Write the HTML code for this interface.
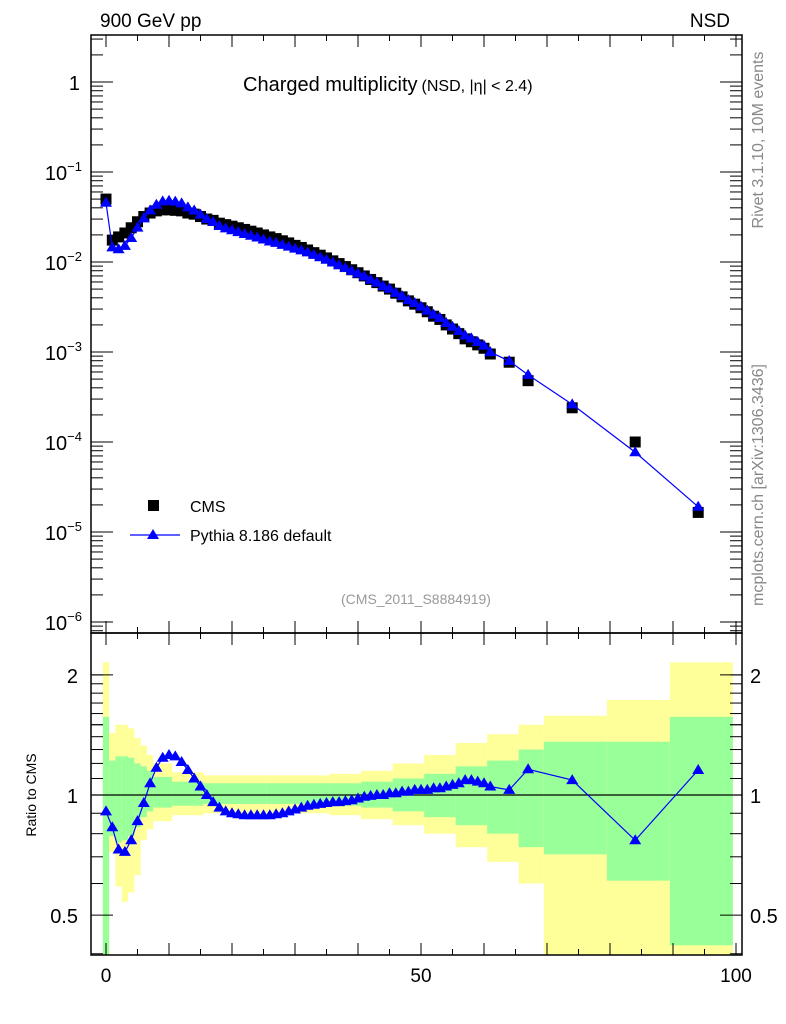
<!DOCTYPE html>
<html><head><meta charset="utf-8">
<style>
html,body{margin:0;padding:0;background:#fff;}
svg{display:block;font-family:"Liberation Sans",sans-serif;}
</style></head>
<body>
<svg id="chart" width="786" height="1024" viewBox="0 0 786 1024">
<g id="bands"></g>
<g id="grid"></g>
<g id="marks"></g>
<rect x="91" y="35" width="651" height="598" fill="none" stroke="#000" stroke-width="1.5"/>
<rect x="91" y="633" width="651" height="322" fill="none" stroke="#000" stroke-width="1.5"/>
<text x="100" y="27" font-size="19">900 GeV pp</text>
<text x="730" y="27" font-size="19" text-anchor="end">NSD</text>
<text x="243" y="91" font-size="20">Charged multiplicity<tspan font-size="16" dx="4">(NSD, |η| &lt; 2.4)</tspan></text>
<text transform="translate(763,140) rotate(-90)" font-size="16" fill="#888" text-anchor="middle">Rivet 3.1.10,  10M events</text>
<text transform="translate(763,485) rotate(-90)" font-size="16" fill="#888" text-anchor="middle">mcplots.cern.ch [arXiv:1306.3436]</text>
<text x="416" y="604" font-size="14" fill="#999" text-anchor="middle">(CMS_2011_S8884919)</text>
<text transform="translate(36,795) rotate(-90)" font-size="14" text-anchor="middle">Ratio to CMS</text>
<g>
<rect x="148" y="500" width="11" height="11" fill="#000"/>
<text x="190" y="512" font-size="16">CMS</text>
<line x1="130" y1="535" x2="180" y2="535" stroke="#00f" stroke-width="1.2"/>
<polygon points="153,529 159,539 147,539" fill="#00f"/>
<text x="190" y="541" font-size="16">Pythia 8.186 default</text>
</g>
</svg>
<script>
const nVals=[0,1,2,3,4,5,6,7,8,9,10,11,12,13,14,15,16,17,18,19,20,21,22,23,24,25,26,27,28,29,30,31,32,33,34,35,36,37,38,39,40,41,42,43,44,45,46,47,48,49,50,51,52,53,54,55,56,57,58,59,60,61,64,67,74,84,94];
const cmsVals=[.050,.0175,.019,.021,.024,.028,.032,.035,.037,.038,.038,.0375,.037,.035,.034,.032,.030,.029,.027,.026,.025,.024,.023,.022,.021,.020,.019,.0182,.0172,.0163,.0153,.0145,.0136,.0127,.0119,.0111,.0103,.0096,.0089,.0082,.0076,.0070,.0064,.0059,.0054,.0050,.0045,.0041,.0037,.0034,.0031,.0028,.0025,.0023,.0020,.0018,.0016,.0014,.0013,.0012,.0011,.00095,.00077,.00048,.00024,.0001,.0000165];
const ratioVals=[.91,.83,.73,.72,.77,.86,.955,1.07,1.17,1.24,1.26,1.25,1.21,1.155,1.10,1.05,1.0,.96,.93,.91,.90,.895,.89,.89,.89,.89,.89,.895,.90,.91,.92,.93,.94,.945,.95,.955,.96,.96,.965,.97,.98,.99,.995,1.0,1.0,1.01,1.01,1.02,1.02,1.03,1.03,1.03,1.04,1.04,1.05,1.06,1.07,1.09,1.09,1.08,1.07,1.05,1.03,1.16,1.09,.77,1.155];
const bandEdges=[-0.5,0.5,1.5,2.5,3.5,4.5,5.5,6.5,7.5,10.5,15.5,25.5,35.5,40.5,45.5,50.5,55.5,60.5,65.5,69.5,79.5,89.5,99.5];
const yellowUp=[2.15,1.43,1.5,1.5,1.47,1.39,1.33,1.26,1.2,1.14,1.12,1.12,1.13,1.15,1.2,1.26,1.35,1.42,1.5,1.58,1.73,2.15];
const yellowLo=[0.3,0.72,0.59,0.54,0.57,0.63,0.77,0.82,0.86,0.89,0.9,0.9,0.89,0.87,0.84,0.8,0.74,0.68,0.6,0.3,0.3,0.3];
const greenUp=[1.57,1.22,1.25,1.25,1.24,1.2,1.18,1.15,1.11,1.08,1.07,1.07,1.07,1.08,1.1,1.13,1.18,1.22,1.3,1.36,1.36,1.57];
const greenLo=[0.3,0.79,0.76,0.77,0.79,0.83,0.88,0.91,0.93,0.94,0.95,0.95,0.94,0.93,0.91,0.88,0.84,0.8,0.74,0.71,0.61,0.42];
const xTickLabels=[0,50,100];
const yMainLabels=[0,-1,-2,-3,-4,-5,-6];
const yRatioLabels=[2,1,0.5];

const NS='http://www.w3.org/2000/svg';
const L=91,R=742,T=35,MB=633,RB=955;
const xs=v=>106+v*6.3;
const ym=v=>82-Math.log10(v)*90;
const yr=v=>795-Math.log10(v)*399;
function mk(tag,attrs,parent){const e=document.createElementNS(NS,tag);for(const k in attrs)e.setAttribute(k,attrs[k]);parent.appendChild(e);return e;}
const bands=document.getElementById('bands'),grid=document.getElementById('grid'),marks=document.getElementById('marks');
for(let i=0;i<yellowUp.length;i++){
  const x0=xs(bandEdges[i]),x1=xs(bandEdges[i+1]);
  const top=Math.max(634,yr(yellowUp[i])),bot=Math.min(RB,yr(yellowLo[i]));
  const y=mk('rect',{x:x0,y:top,width:x1-x0,height:bot-top,fill:'#ffff99'},bands);
  
  
  const gt=Math.max(634,yr(greenUp[i])),gb=Math.min(RB,yr(greenLo[i]));
  const g=mk('rect',{x:x0,y:gt,width:x1-x0,height:gb-gt,fill:'#99ff99'},bands);
  
  
}
for(let v=0;v<=100;v+=5){
  const x=xs(v),len=(v%10===0)?12:6;
  [[T,1],[MB,-1],[633,1],[RB,-1]].forEach(([y0,d])=>{
    const t=mk('line',{x1:x,x2:x,y1:y0,y2:y0+d*len,stroke:'#000','stroke-width':1},grid);
    
    
  });
}
xTickLabels.forEach(v=>{
  const t=mk('text',{x:xs(v),y:982,'font-size':19,'text-anchor':'middle'},grid);
  t.textContent=v;
  
  
});
for(let e=-7;e<=0;e++){
  for(let m=1;m<=9;m++){
    const v=m*Math.pow(10,e),y=ym(v);
    if(y<T||y>MB)continue;
    const len=m===1?22:12;
    [[L,1],[R,-1]].forEach(([x0,d])=>{
      const t=mk('line',{x1:x0,x2:x0+d*len,y1:y,y2:y,stroke:'#000','stroke-width':1},grid);
      
      
    });
  }
}
yMainLabels.forEach(e=>{
  const t=mk('text',{x:e===0?80:82,y:ym(Math.pow(10,e))+8,'font-size':20,'text-anchor':'end'},grid);
  if(e===0){t.textContent='1';}
  else{t.textContent='10';const s=mk('tspan',{dy:-9,'font-size':13},t);s.textContent='−'+(-e);}
  
  
});
[0.4,0.5,0.6,0.7,0.8,0.9,1,1.5,2].forEach(v=>{
  const y=yr(v);if(y<634||y>RB)return;
  const len=(v===0.5||v===1||v===2)?22:12;
  [[L,1],[R,-1]].forEach(([x0,d])=>{
    const t=mk('line',{x1:x0,x2:x0+d*len,y1:y,y2:y,stroke:'#000','stroke-width':1},grid);
    
    
  });
});
for(let v=1.1;v<2.05;v+=0.1){const y=yr(v);[[L,1],[R,-1]].forEach(([x0,d])=>{const t=mk('line',{x1:x0,x2:x0+d*12,y1:y,y2:y,stroke:'#000','stroke-width':1},grid);});}
yRatioLabels.forEach(v=>{
  [[78,'end'],[750,'start']].forEach(([x,a])=>{
    const t=mk('text',{x:x,y:yr(v)+8,'font-size':20,'text-anchor':a},grid);
    t.textContent=String(v);
    
    
  });
});
const one=mk('line',{x1:L,x2:R,y1:yr(1),y2:yr(1),stroke:'#000','stroke-width':1.3},grid);


nVals.forEach((n,i)=>{
  const r=mk('rect',{x:xs(n)-5.5,y:ym(cmsVals[i])-5.5,width:11,height:11,fill:'#000'},marks);
  
  
});
const py=nVals.map((n,i)=>[xs(n),ym(cmsVals[i]*ratioVals[i])]);
const pl=mk('polyline',{points:py.map(p=>p.join(',')).join(' '),fill:'none',stroke:'#00f','stroke-width':1.2},marks);


const tri=(x,y)=>`${x},${y-6} ${x+6},${y+4} ${x-6},${y+4}`;
py.forEach(p=>{
  const t=mk('polygon',{points:tri(p[0],p[1]),fill:'#00f'},marks);
  
  
});
const rp=nVals.map((n,i)=>[xs(n),yr(ratioVals[i])]);
const rl=mk('polyline',{points:rp.map(p=>p.join(',')).join(' '),fill:'none',stroke:'#00f','stroke-width':1.2},marks);


rp.forEach(p=>{
  const t=mk('polygon',{points:tri(p[0],p[1]),fill:'#00f'},marks);
  
  
});
</script>
</body></html>
